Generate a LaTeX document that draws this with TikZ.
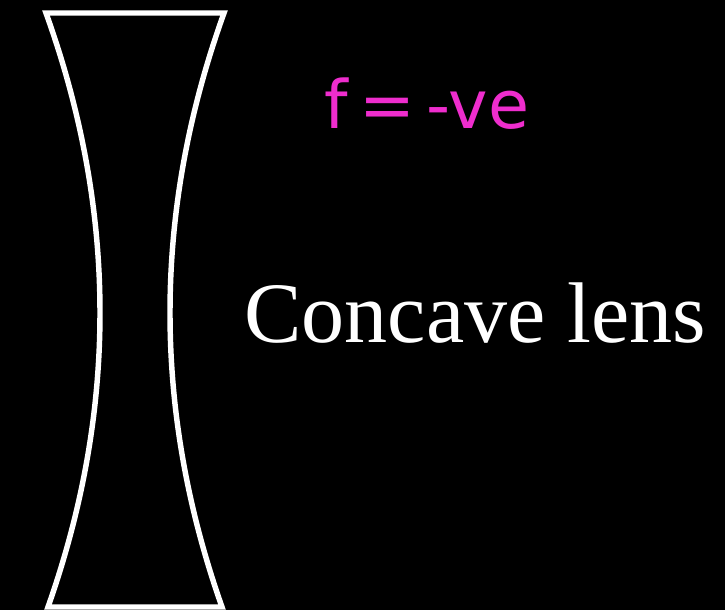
\documentclass[tikz,border=0pt]{standalone}
\usepackage{fontspec}
\setmainfont{Liberation Serif}
\newfontfamily\handfont{DejaVu Sans}
\usetikzlibrary{positioning}
\definecolor{penpink}{RGB}{238,45,205}

\begin{document}
\begin{tikzpicture}[
	x=0.02cm, y=-0.02cm,
	lensline/.style={draw=white, line width=3.1pt, line join=miter},
	title/.style={text=white, font=\fontsize{49}{52}\selectfont, inner sep=0pt},
	note/.style={text=penpink, font=\handfont\fontsize{38}{40}\selectfont, inner sep=0pt},
]
	% background
	\fill[black] (0,0) rectangle (725,610);
	\useasboundingbox (0,0) rectangle (725,610);

	% Lens (outline)
	\coordinate (tl) at (46,13);
	\coordinate (tr) at (224,13);
	\coordinate (bl) at (48,607);
	\coordinate (br) at (222,607);
	\draw[lensline] (tl) -- (tr)
		.. controls (152.7,211) and (152,409) .. (br) -- (bl)
		.. controls (118,409) and (117.3,211) .. cycle;

	% Labels
	\node[note, anchor=base] (focal) at (427,128) {f\,=\,-ve};
	\node[title, anchor=base west] (name) at (244,342) {Concave lens};

\end{tikzpicture}
\end{document}
